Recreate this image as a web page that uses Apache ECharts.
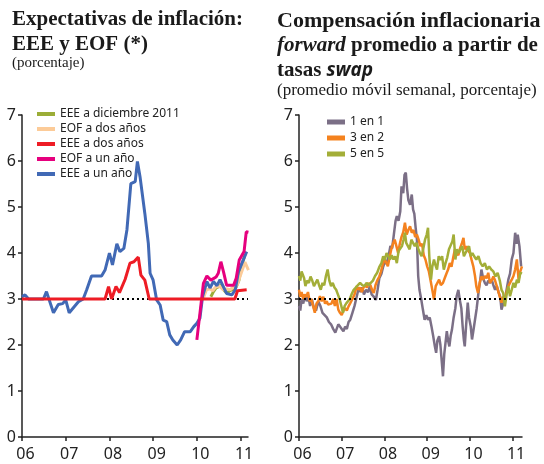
<!DOCTYPE html>
<html><head><meta charset="utf-8">
<script src="https://cdn.jsdelivr.net/npm/echarts@6/dist/echarts.min.js"></script>
<style>html,body{margin:0;padding:0;background:#fff}#c{width:544px;height:464px}</style>
</head><body><div id="c"></div>
<script>
// ---------- tick labels ----------
const yearTicks = [2006, 2007, 2008, 2009, 2010, 2011];
const yMin = 0, yMax = 7;
const refLevel = 3;

// ---------- left chart: Expectativas de inflación (year, %) ----------
const eeeDic2011 = [[2010.32,3.05],[2010.38,3.16],[2010.44,3.24],[2010.50,3.27],[2010.55,3.30],[2010.61,3.20],[2010.68,3.13],[2010.76,3.18],[2010.84,3.22],[2010.90,3.26],[2010.96,3.40],[2011.03,3.74],[2011.10,3.96]];
const eofDosAnos = [[2010.15,3.02],[2010.22,3.20],[2010.30,3.22],[2010.36,3.18],[2010.43,3.26],[2010.52,3.28],[2010.60,3.20],[2010.68,3.22],[2010.76,3.20],[2010.84,3.26],[2010.92,3.30],[2011.00,3.52],[2011.10,3.80],[2011.18,3.63]];
const eeeDosAnos = [[2006.00,3.0],[2007.90,3.0],[2007.98,3.27],[2008.05,3.0],[2008.15,3.27],[2008.23,3.14],[2008.36,3.43],[2008.47,3.78],[2008.56,3.81],[2008.66,3.91],[2008.72,3.52],[2008.81,3.41],[2008.91,3.0],[2010.87,3.0],[2010.93,3.18],[2011.14,3.2]];
const eofUnAno = [[2010.00,2.11],[2010.15,3.34],[2010.23,3.50],[2010.32,3.41],[2010.44,3.48],[2010.49,3.56],[2010.55,3.81],[2010.61,3.59],[2010.68,3.30],[2010.84,3.30],[2010.90,3.45],[2010.97,3.85],[2011.08,4.03],[2011.13,4.46],[2011.18,4.45]];
const eeeUnAno = [[2006.00,3.05],[2006.07,3.09],[2006.15,3.0],[2006.49,3.0],[2006.56,3.16],[2006.72,2.70],[2006.83,2.88],[2006.93,2.90],[2007.00,2.98],[2007.08,2.70],[2007.29,2.94],[2007.40,3.00],[2007.48,3.20],[2007.59,3.50],[2007.82,3.50],[2007.90,3.63],[2008.00,4.00],[2008.07,3.74],[2008.17,4.20],[2008.24,4.03],[2008.33,4.10],[2008.40,4.50],[2008.49,5.51],[2008.59,5.55],[2008.64,5.99],[2008.70,5.66],[2008.81,4.86],[2008.89,4.21],[2008.93,3.56],[2009.00,3.41],[2009.08,2.98],[2009.16,2.87],[2009.23,2.54],[2009.31,2.51],[2009.38,2.22],[2009.45,2.11],[2009.55,2.00],[2009.63,2.11],[2009.72,2.29],[2009.85,2.29],[2009.93,2.40],[2010.00,2.47],[2010.07,2.58],[2010.13,3.05],[2010.23,3.38],[2010.30,3.24],[2010.38,3.38],[2010.46,3.29],[2010.53,3.42],[2010.60,3.28],[2010.68,3.12],[2010.80,3.09],[2010.88,3.20],[2010.95,3.59],[2011.14,4.03]];

// ---------- right chart: Compensación inflacionaria forward (year, %) ----------
const unEnUno = [[2006.00,2.85],[2006.03,2.75],[2006.06,3.00],[2006.10,2.90],[2006.14,3.10],[2006.18,2.95],[2006.22,3.05],[2006.26,2.85],[2006.30,3.00],[2006.35,2.80],[2006.40,2.75],[2006.45,2.95],[2006.50,2.85],[2006.55,2.70],[2006.60,2.65],[2006.65,2.60],[2006.70,2.50],[2006.75,2.45],[2006.80,2.35],[2006.85,2.27],[2006.88,2.30],[2006.92,2.45],[2006.96,2.40],[2007.00,2.35],[2007.04,2.30],[2007.08,2.40],[2007.12,2.35],[2007.16,2.50],[2007.20,2.55],[2007.25,2.70],[2007.30,2.85],[2007.35,3.05],[2007.40,3.25],[2007.44,3.15],[2007.48,3.25],[2007.52,3.10],[2007.57,3.20],[2007.62,3.15],[2007.66,3.30],[2007.70,3.10],[2007.75,3.05],[2007.80,2.98],[2007.84,3.20],[2007.88,3.45],[2007.93,3.55],[2007.97,3.70],[2008.02,3.85],[2008.06,3.75],[2008.10,3.95],[2008.14,4.15],[2008.18,4.10],[2008.22,4.40],[2008.26,4.70],[2008.29,4.80],[2008.33,4.70],[2008.37,4.90],[2008.40,5.45],[2008.44,5.30],[2008.47,5.70],[2008.50,5.75],[2008.53,5.40],[2008.56,5.15],[2008.60,5.05],[2008.64,5.27],[2008.67,4.95],[2008.70,4.85],[2008.73,4.55],[2008.76,4.30],[2008.79,3.50],[2008.82,3.20],[2008.86,3.00],[2008.90,2.77],[2008.94,2.55],[2008.98,2.65],[2009.02,2.55],[2009.06,2.60],[2009.10,2.41],[2009.14,2.20],[2009.18,1.97],[2009.21,1.83],[2009.24,2.10],[2009.28,2.19],[2009.31,2.00],[2009.34,1.97],[2009.37,1.32],[2009.40,1.80],[2009.43,2.05],[2009.46,2.30],[2009.49,2.10],[2009.52,1.97],[2009.55,2.20],[2009.58,2.33],[2009.62,2.60],[2009.66,2.80],[2009.69,3.06],[2009.73,3.20],[2009.76,3.00],[2009.80,2.80],[2009.83,2.41],[2009.86,2.10],[2009.88,1.97],[2009.91,2.40],[2009.95,2.92],[2009.98,2.60],[2010.02,2.40],[2010.05,2.12],[2010.08,2.30],[2010.12,2.55],[2010.16,2.80],[2010.20,3.13],[2010.24,3.40],[2010.27,3.64],[2010.31,3.45],[2010.35,3.35],[2010.39,3.30],[2010.43,3.40],[2010.47,3.35],[2010.51,3.42],[2010.55,3.30],[2010.59,3.20],[2010.63,3.28],[2010.67,3.15],[2010.71,3.05],[2010.74,2.77],[2010.78,2.90],[2010.82,2.99],[2010.86,3.20],[2010.90,3.42],[2010.94,3.55],[2010.98,3.86],[2011.02,4.00],[2011.06,4.44],[2011.09,4.20],[2011.12,4.40],[2011.16,4.15],[2011.20,3.71]];
const tresEnDos = [[2006.00,3.20],[2006.03,3.05],[2006.06,3.15],[2006.10,3.00],[2006.13,3.10],[2006.17,3.05],[2006.21,3.15],[2006.25,2.95],[2006.29,3.00],[2006.33,2.85],[2006.37,2.70],[2006.41,2.90],[2006.45,2.95],[2006.49,3.06],[2006.53,2.95],[2006.57,3.05],[2006.61,2.90],[2006.65,2.95],[2006.68,2.88],[2006.72,2.84],[2006.76,2.90],[2006.80,3.00],[2006.84,2.85],[2006.88,3.00],[2006.92,2.77],[2006.96,2.70],[2007.00,2.65],[2007.04,2.75],[2007.08,2.80],[2007.12,2.75],[2007.16,2.84],[2007.20,2.91],[2007.25,3.00],[2007.30,3.10],[2007.35,3.28],[2007.39,3.20],[2007.43,3.25],[2007.47,3.15],[2007.51,3.25],[2007.55,3.30],[2007.59,3.25],[2007.63,3.35],[2007.67,3.30],[2007.71,3.20],[2007.75,3.13],[2007.79,3.30],[2007.83,3.40],[2007.88,3.49],[2007.92,3.60],[2007.96,3.75],[2008.00,3.86],[2008.04,3.80],[2008.08,3.71],[2008.12,3.90],[2008.16,4.08],[2008.20,4.20],[2008.24,4.29],[2008.28,4.15],[2008.32,4.00],[2008.36,4.20],[2008.40,4.35],[2008.44,4.45],[2008.48,4.66],[2008.52,4.40],[2008.56,4.50],[2008.60,4.58],[2008.64,4.44],[2008.68,4.50],[2008.72,4.35],[2008.76,4.40],[2008.80,4.29],[2008.84,4.15],[2008.88,4.20],[2008.92,3.95],[2008.96,3.86],[2009.00,3.71],[2009.04,3.60],[2009.08,3.40],[2009.12,3.20],[2009.16,2.99],[2009.20,3.28],[2009.24,3.35],[2009.28,3.42],[2009.32,3.30],[2009.37,3.35],[2009.41,3.45],[2009.45,3.55],[2009.49,3.64],[2009.53,3.78],[2009.57,3.70],[2009.61,3.90],[2009.65,4.08],[2009.69,4.00],[2009.73,3.95],[2009.77,4.10],[2009.81,4.20],[2009.85,4.33],[2009.88,4.08],[2009.92,4.15],[2009.96,4.05],[2010.00,4.00],[2010.04,3.85],[2010.08,3.71],[2010.12,3.50],[2010.15,3.28],[2010.19,3.13],[2010.23,3.35],[2010.27,3.49],[2010.31,3.42],[2010.35,3.50],[2010.39,3.45],[2010.43,3.57],[2010.47,3.35],[2010.51,3.40],[2010.55,3.49],[2010.59,3.40],[2010.63,3.28],[2010.67,3.15],[2010.70,3.05],[2010.74,2.92],[2010.78,3.05],[2010.82,2.99],[2010.86,3.15],[2010.90,3.28],[2010.94,3.35],[2010.98,3.42],[2011.02,3.50],[2011.06,3.64],[2011.10,3.86],[2011.14,3.42],[2011.18,3.60],[2011.22,3.71]];
const cincoEnCinco = [[2006.00,3.50],[2006.03,3.40],[2006.06,3.60],[2006.09,3.64],[2006.12,3.45],[2006.15,3.28],[2006.19,3.40],[2006.23,3.35],[2006.27,3.49],[2006.31,3.40],[2006.35,3.28],[2006.39,3.35],[2006.43,3.42],[2006.47,3.30],[2006.51,3.20],[2006.55,3.35],[2006.59,3.30],[2006.63,3.50],[2006.67,3.64],[2006.71,3.40],[2006.75,3.28],[2006.79,3.35],[2006.83,3.25],[2006.87,3.20],[2006.91,3.10],[2006.95,3.00],[2006.99,2.85],[2007.03,2.70],[2007.07,2.85],[2007.11,2.91],[2007.15,2.95],[2007.19,3.00],[2007.23,3.10],[2007.28,3.20],[2007.33,3.25],[2007.38,3.30],[2007.43,3.35],[2007.48,3.30],[2007.53,3.28],[2007.58,3.35],[2007.63,3.30],[2007.68,3.35],[2007.73,3.40],[2007.78,3.50],[2007.83,3.57],[2007.88,3.70],[2007.93,3.78],[2007.97,3.93],[2008.01,3.85],[2008.05,4.00],[2008.09,3.93],[2008.13,3.86],[2008.17,3.95],[2008.21,3.86],[2008.25,3.93],[2008.29,3.78],[2008.33,4.04],[2008.37,4.00],[2008.41,4.15],[2008.45,4.30],[2008.48,4.44],[2008.51,4.22],[2008.55,4.22],[2008.59,4.08],[2008.63,4.29],[2008.67,4.22],[2008.71,4.15],[2008.75,4.22],[2008.79,4.10],[2008.83,4.00],[2008.87,3.93],[2008.91,4.10],[2008.95,4.29],[2008.99,4.40],[2009.02,4.55],[2009.05,3.93],[2009.09,3.42],[2009.12,3.70],[2009.16,3.86],[2009.19,3.75],[2009.23,3.64],[2009.27,3.93],[2009.31,3.85],[2009.35,3.93],[2009.39,3.64],[2009.43,3.78],[2009.47,3.90],[2009.51,4.08],[2009.55,4.10],[2009.59,4.25],[2009.62,4.40],[2009.66,3.86],[2009.70,4.08],[2009.74,4.00],[2009.78,4.08],[2009.82,4.15],[2009.86,3.93],[2009.90,3.93],[2009.94,4.08],[2009.98,4.15],[2010.02,3.93],[2010.06,4.00],[2010.10,3.93],[2010.15,3.86],[2010.20,3.93],[2010.25,3.78],[2010.30,3.71],[2010.35,3.78],[2010.40,3.64],[2010.45,3.71],[2010.50,3.64],[2010.55,3.60],[2010.60,3.49],[2010.65,3.57],[2010.70,3.40],[2010.74,3.20],[2010.78,3.13],[2010.82,2.84],[2010.86,3.10],[2010.90,3.28],[2010.94,3.06],[2010.98,3.20],[2011.02,3.35],[2011.06,3.25],[2011.10,3.42],[2011.14,3.35],[2011.18,3.57],[2011.22,3.55]];

const chart = echarts.init(document.getElementById('c'), null, {renderer: 'canvas'});
const sans = '"Noto Sans", sans-serif';
const serif = '"Liberation Serif", serif';
const axisColor = '#222';

function xAxisCfg(gridIndex, max) {
  return {
    type: 'value', gridIndex, min: 2006, max, interval: 1,
    axisLine: {lineStyle: {color: axisColor, width: 1.5}},
    axisTick: {customValues: yearTicks, length: 4, lineStyle: {color: axisColor, width: 1.5}},
    axisLabel: {customValues: yearTicks, formatter: v => String(v).slice(2), color: axisColor,
      fontFamily: sans, fontSize: 16, margin: 9, padding: [0, 0, 0, 7]},
    splitLine: {show: false}
  };
}
function yAxisCfg(gridIndex) {
  return {
    type: 'value', gridIndex, min: yMin, max: yMax, interval: 1,
    axisLine: {show: true, lineStyle: {color: axisColor, width: 1.5}},
    axisTick: {show: true, length: 4, lineStyle: {color: axisColor, width: 1.5}},
    axisLabel: {color: axisColor, fontFamily: sans, fontSize: 16, margin: 6},
    splitLine: {show: false}
  };
}
function line(name, data, color, idx, width, z) {
  return {name, type: 'line', data, xAxisIndex: idx, yAxisIndex: idx, symbol: 'none',
    lineStyle: {color, width}, itemStyle: {color}, z, animation: false};
}
function refLine(idx) {
  return {name: 'ref' + idx, type: 'line', data: [], xAxisIndex: idx, yAxisIndex: idx, z: 20,
    markLine: {silent: true, symbol: 'none', animation: false, label: {show: false},
      lineStyle: {color: '#000', type: [2, 3], width: 2}, data: [{yAxis: refLevel}]}};
}

const option = {
  backgroundColor: '#fff',
  animation: false,
  grid: [
    {left: 22, top: 115, width: 226, height: 322, containLabel: false},
    {left: 299, top: 115, width: 223, height: 322, containLabel: false}
  ],
  xAxis: [xAxisCfg(0, 2011.17), xAxisCfg(1, 2011.22)],
  yAxis: [yAxisCfg(0), yAxisCfg(1)],
  legend: [
    {data: ['EEE a diciembre 2011', 'EOF a dos años', 'EEE a dos años', 'EOF a un año', 'EEE a un año'],
      orient: 'vertical', left: 32, top: 102, itemWidth: 18, itemHeight: 4, itemGap: 1, icon: 'rect',
      selectedMode: false, textStyle: {fontFamily: sans, fontSize: 12, color: '#222', lineHeight: 14}},
    {data: ['1 en 1', '3 en 2', '5 en 5'],
      orient: 'vertical', left: 322, top: 110, itemWidth: 18, itemHeight: 5, itemGap: 2, icon: 'rect',
      selectedMode: false, textStyle: {fontFamily: sans, fontSize: 12, color: '#222', lineHeight: 14}}
  ],
  graphic: [
    {type: 'text', x: 12, y: 20, style: {text: 'Expectativas de inflación:', font: 'bold 21px ' + serif, fill: '#1a1a1a', verticalAlign: 'middle'}},
    {type: 'text', x: 12, y: 45, style: {text: 'EEE y EOF (*)', font: 'bold 21px ' + serif, fill: '#1a1a1a', verticalAlign: 'middle'}},
    {type: 'text', x: 12, y: 63, style: {text: '(porcentaje)', font: '15px ' + serif, fill: '#1a1a1a', verticalAlign: 'middle'}},
    {type: 'text', x: 277, y: 21, style: {text: 'Compensación inflacionaria', font: 'bold 22px ' + serif, fill: '#1a1a1a', verticalAlign: 'middle'}},
    {type: 'text', x: 277, y: 46, style: {text: '{i|forward} promedio a partir de', font: 'bold 21px ' + serif, fill: '#1a1a1a', verticalAlign: 'middle',
      rich: {i: {font: 'italic bold 21px ' + serif, fill: '#1a1a1a'}}}},
    {type: 'text', x: 277, y: 71, style: {text: 'tasas {i|swap}', font: 'bold 21px ' + serif, fill: '#1a1a1a', verticalAlign: 'middle',
      rich: {i: {font: 'italic bold 19px ' + sans, fill: '#1a1a1a'}}}},
    {type: 'text', x: 277, y: 91, style: {text: '(promedio móvil semanal, porcentaje)', font: '17px ' + serif, fill: '#1a1a1a', verticalAlign: 'middle'}}
  ],
  series: [
    line('EEE a diciembre 2011', eeeDic2011, '#9bad37', 0, 3, 2),
    line('EOF a dos años', eofDosAnos, '#fccb98', 0, 3, 3),
    line('EEE a un año', eeeUnAno, '#4169b5', 0, 3, 4),
    line('EOF a un año', eofUnAno, '#e6007e', 0, 3, 5),
    line('EEE a dos años', eeeDosAnos, '#ee1c25', 0, 3, 6),
    refLine(0),
    line('1 en 1', unEnUno, '#7b6f86', 1, 2.5, 2),
    line('3 en 2', tresEnDos, '#f4821f', 1, 2.5, 3),
    line('5 en 5', cincoEnCinco, '#a3ae38', 1, 2.5, 4),
    refLine(1)
  ]
};
chart.setOption(option);
</script>
</body></html>
